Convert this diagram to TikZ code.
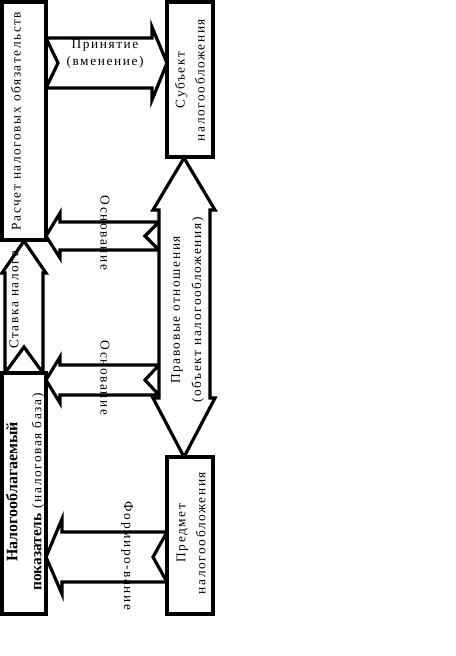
\documentclass[tikz,border=0pt]{standalone}
\usepackage{fontspec}
\setmainfont{Liberation Serif}[LetterSpace=12]
\newfontfamily\tms{Liberation Serif}
\begin{document}
\begin{tikzpicture}[x=0.75pt,y=-0.75pt,
  box/.style={draw, line width=3pt, fill=white, inner sep=0pt},
  blk/.style={draw, line width=2.4pt, fill=white, line join=miter},
  lbl/.style={font=\fontsize{10}{15}\selectfont, inner sep=0pt, align=center}]
\useasboundingbox (0,0) rectangle (455,656);
% block arrows
\draw[blk] (46,38) -- (152,38) -- (152,27) -- (167,63) -- (152,100) -- (152,88) -- (46,88) -- (58,63) -- cycle;
\draw[blk] (159,222) -- (60,222) -- (60,213) -- (46,236) -- (60,258) -- (60,250) -- (159,250) -- (145,236) -- cycle;
\draw[blk] (159,365) -- (60,365) -- (60,357) -- (46,380) -- (60,403) -- (60,395) -- (159,395) -- (145,380) -- cycle;
\draw[blk] (5,373) -- (5,273) -- (2,273) -- (24,241) -- (46,273) -- (43,273) -- (43,373) -- (24,347) -- cycle;
\draw[blk] (159,210) -- (153,210) -- (184,158) -- (215,210) -- (210,210) -- (210,398) -- (215,398) -- (184,457) -- (153,398) -- (159,398) -- cycle;
\draw[blk] (167,532) -- (62,532) -- (62,519) -- (46,557) -- (62,594) -- (62,582) -- (167,582) -- (153,557) -- cycle;
% boxes
\node[box, minimum width=33pt, minimum height=178.5pt] (b1) at (24,121) {};
\node[box, minimum width=34.5pt, minimum height=116.25pt] (b2) at (190,79.5) {};
\node[box, minimum width=33pt, minimum height=180.75pt] (b3) at (24,493.5) {};
\node[box, minimum width=34.5pt, minimum height=117.75pt] (b4) at (190,535.5) {};
% texts
\node[lbl, rotate=90] (t1) at (16,121) {Расчет налоговых обязательств};
\node[lbl, rotate=90] (t2) at (190,80) {Субъект\\налогообложения};
\node[lbl, rotate=90, font=\fontsize{10}{18}\selectfont] (t3) at (25,492) {{\tms\bfseries\fontsize{12}{18}\selectfont Налогооблагаемый}\\{\tms\bfseries\fontsize{11.5}{18}\selectfont показатель} (налоговая база)};
\node[lbl, rotate=90] (t4) at (191,533) {Предмет\\налогообложения};
\node[lbl, rotate=90, font=\fontsize{10}{16}\selectfont] (t5) at (187.5,310) {Правовые отношения\\(объект налогообложения)};
\node[lbl, font=\fontsize{10}{13}\selectfont] (l1) at (105,54) {Принятие\\(вменение)};
\node[lbl, rotate=-90] (l2) at (105,233) {Основание};
\node[lbl, rotate=-90] (l3) at (105,378) {Основание};
\node[lbl, rotate=-90] (l4) at (127,556) {Формиро-вание};
\node[lbl, rotate=90] (l5) at (14,300) {Ставка налога};
\end{tikzpicture}
\end{document}
